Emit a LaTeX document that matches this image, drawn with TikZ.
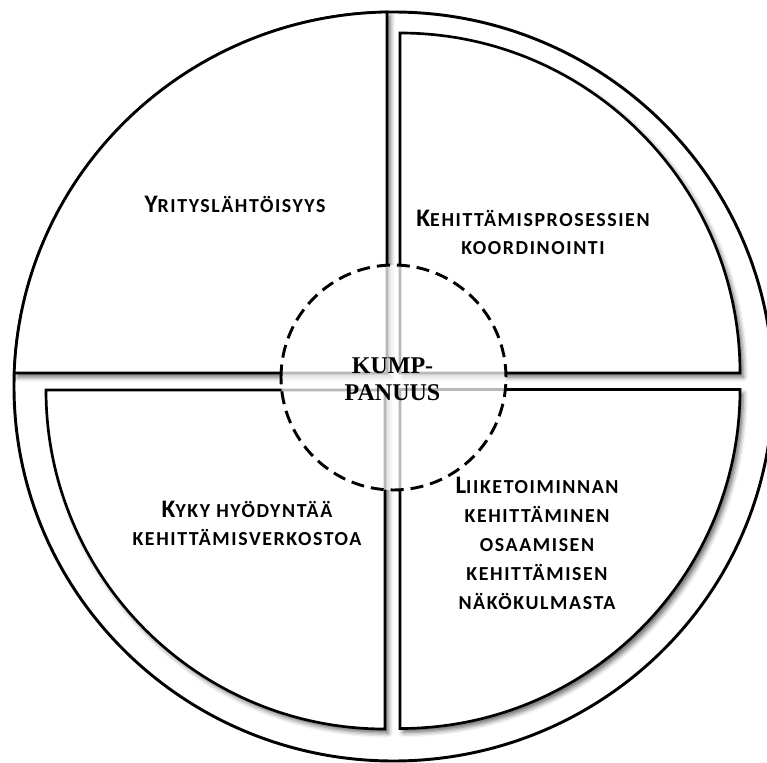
\documentclass[tikz,border=0pt]{standalone}
\usepackage{fontspec}
\usepackage{tikz}
\usetikzlibrary{shadows.blur}
\newfontfamily\labelfont[LetterSpace=8]{Carlito}
\newfontfamily\centrefont{Liberation Serif}
\newcommand{\initcap}[1]{{\fontsize{18.9}{21}\selectfont #1}}
\tikzset{
  sectorshape/.style={draw, line width=2pt, fill=white,
    blur shadow={shadow xshift=2.5pt, shadow yshift=-3pt, shadow blur radius=3.5pt, shadow opacity=60}},
  quadtext/.style={font=\labelfont\bfseries\fontsize{14.9}{21}\selectfont, align=center, inner sep=0pt},
}
\begin{document}
\begin{tikzpicture}[x=0.75pt,y=0.75pt,yscale=-1,xscale=1]
\useasboundingbox (0,0) rectangle (767,763);

%Shape: Ellipse (outer ring)
\draw  [line width=2.2pt] (14,386.5) .. controls (14,179.7) and (183.9,12) .. (393.5,12) .. controls (603.1,12) and (773,179.7) .. (773,386.5) .. controls (773,593.3) and (603.1,761) .. (393.5,761) .. controls (183.9,761) and (14,593.3) .. (14,386.5) -- cycle ;

%Shape: Sector top left
\draw  [sectorshape] (387,373) -- (14.25,373) .. controls (21.5,174) and (185.3,15.45) .. (387,12.05) -- cycle ;
%Shape: Sector top right
\draw  [sectorshape] (400,373) -- (400,33) .. controls (587.8,33) and (740,185.2) .. (740,373) -- cycle ;
%Shape: Sector bottom left
\draw  [sectorshape] (385,390) -- (46,390) .. controls (46,577.2) and (197.8,729) .. (385,729) -- cycle ;
%Shape: Sector bottom right
\draw  [sectorshape] (400,389.5) -- (740,389.5) .. controls (740,576.7) and (587.8,728.5) .. (400,728.5) -- cycle ;

%Shape: Circle (centre, dashed)
\draw  [line width=2.2pt, dash pattern={on 9.75pt off 5.25pt}, fill=white, fill opacity=0.72, draw opacity=1] (281,377.5) .. controls (281,315.37) and (331.37,265) .. (393.5,265) .. controls (455.63,265) and (506,315.37) .. (506,377.5) .. controls (506,439.63) and (455.63,490) .. (393.5,490) .. controls (331.37,490) and (281,439.63) .. (281,377.5) -- cycle ;

% Text Node
\node [quadtext, anchor=base] (yritys) at (235,212) {\initcap{Y}RITYSLÄHTÖISYYS};
% Text Node
\node [quadtext, anchor=base] (koord) at (533,254) {\initcap{K}EHITTÄMISPROSESSIEN\\KOORDINOINTI};
% Text Node
\node [quadtext, anchor=base] (verkosto) at (247,545) {\initcap{K}YKY HYÖDYNTÄÄ\\KEHITTÄMISVERKOSTOA};
% Text Node
\node [quadtext, anchor=base, font=\labelfont\bfseries\fontsize{14.9}{21.75}\selectfont] (liike) at (537,609.3) {\initcap{L}IIKETOIMINNAN\\KEHITTÄMINEN\\OSAAMISEN\\KEHITTÄMISEN\\NÄKÖKULMASTA};
% Text Node
\node [font=\centrefont\bfseries\fontsize{18}{20}\selectfont, align=center, inner sep=0pt, anchor=base] (kump) at (392.5,400) {KUMP-\\PANUUS};

\end{tikzpicture}
\end{document}
